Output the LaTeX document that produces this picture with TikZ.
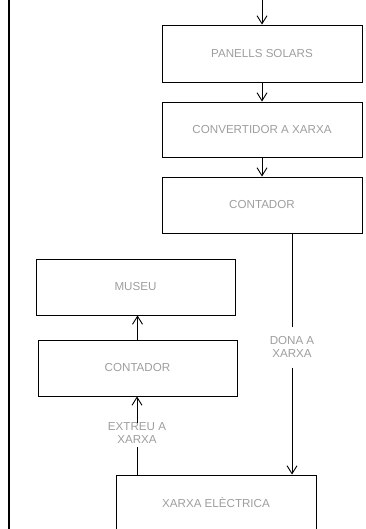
\documentclass[tikz,border=0pt]{standalone}
\usepackage{fontspec}
\setmainfont{Liberation Sans}
\usetikzlibrary{arrows.meta}
\definecolor{txtgray}{RGB}{158,158,158}
\begin{document}
\begin{tikzpicture}[x=1pt,y=-1pt,
  box/.style={draw=black,line width=0.9pt,minimum width=200pt,minimum height=56pt,inner sep=0pt,
    text=txtgray,font=\fontsize{11.6}{13.5}\selectfont},
  lab/.style={text=txtgray,font=\fontsize{11.6}{13.5}\selectfont,align=center,inner xsep=0pt},
  conn/.style={line width=0.9pt},
  arr/.style={conn,-{Straight Barb[length=8pt,width=10pt,line width=0.9pt]}}]
\useasboundingbox (0,0) rectangle (366,529);
\clip (0,0) rectangle (366,529);
\coordinate (lt) at (9,0);
\coordinate (lb) at (9,529);
\draw[line width=1.8pt] (lt) -- (lb);
\node[box,minimum height=57pt] (b1) at (262,53.5) {PANELLS SOLARS};
\node[box,minimum height=55pt] (b2) at (262,129.5) {CONVERTIDOR A XARXA};
\node[box] (b3) at (262,205) {CONTADOR};
\node[box,minimum width=199pt] (mu) at (135.5,287) {MUSEU};
\node[box,minimum width=199pt] (c2) at (137.5,368) {CONTADOR};
\node[box] (xe) at (216,503) {XARXA ELÈCTRICA};
\node[lab,inner ysep=9.5pt] (dona) at (292,347) {DONA A\\XARXA};
\node[lab,inner ysep=3pt] (ext) at (137,433) {EXTREU A\\XARXA};
\coordinate (top) at (262,0);
\draw[arr] (top) -- (b1.north);
\draw[arr] (b1.south) -- (b2.north);
\draw[arr] (b2.south) -- (b3.north);
\draw[conn] (b3.south -| dona.north) -- (dona.north);
\draw[arr] (dona.south) -- (dona.south |- xe.north);
\draw[conn] (xe.north -| ext.south) -- (ext.south);
\draw[arr,shorten <=-4pt] (ext.north) -- (ext.north |- c2.south);
\draw[arr] (c2.north -| c2.south) -- (c2.north |- mu.south);
\end{tikzpicture}
\end{document}
